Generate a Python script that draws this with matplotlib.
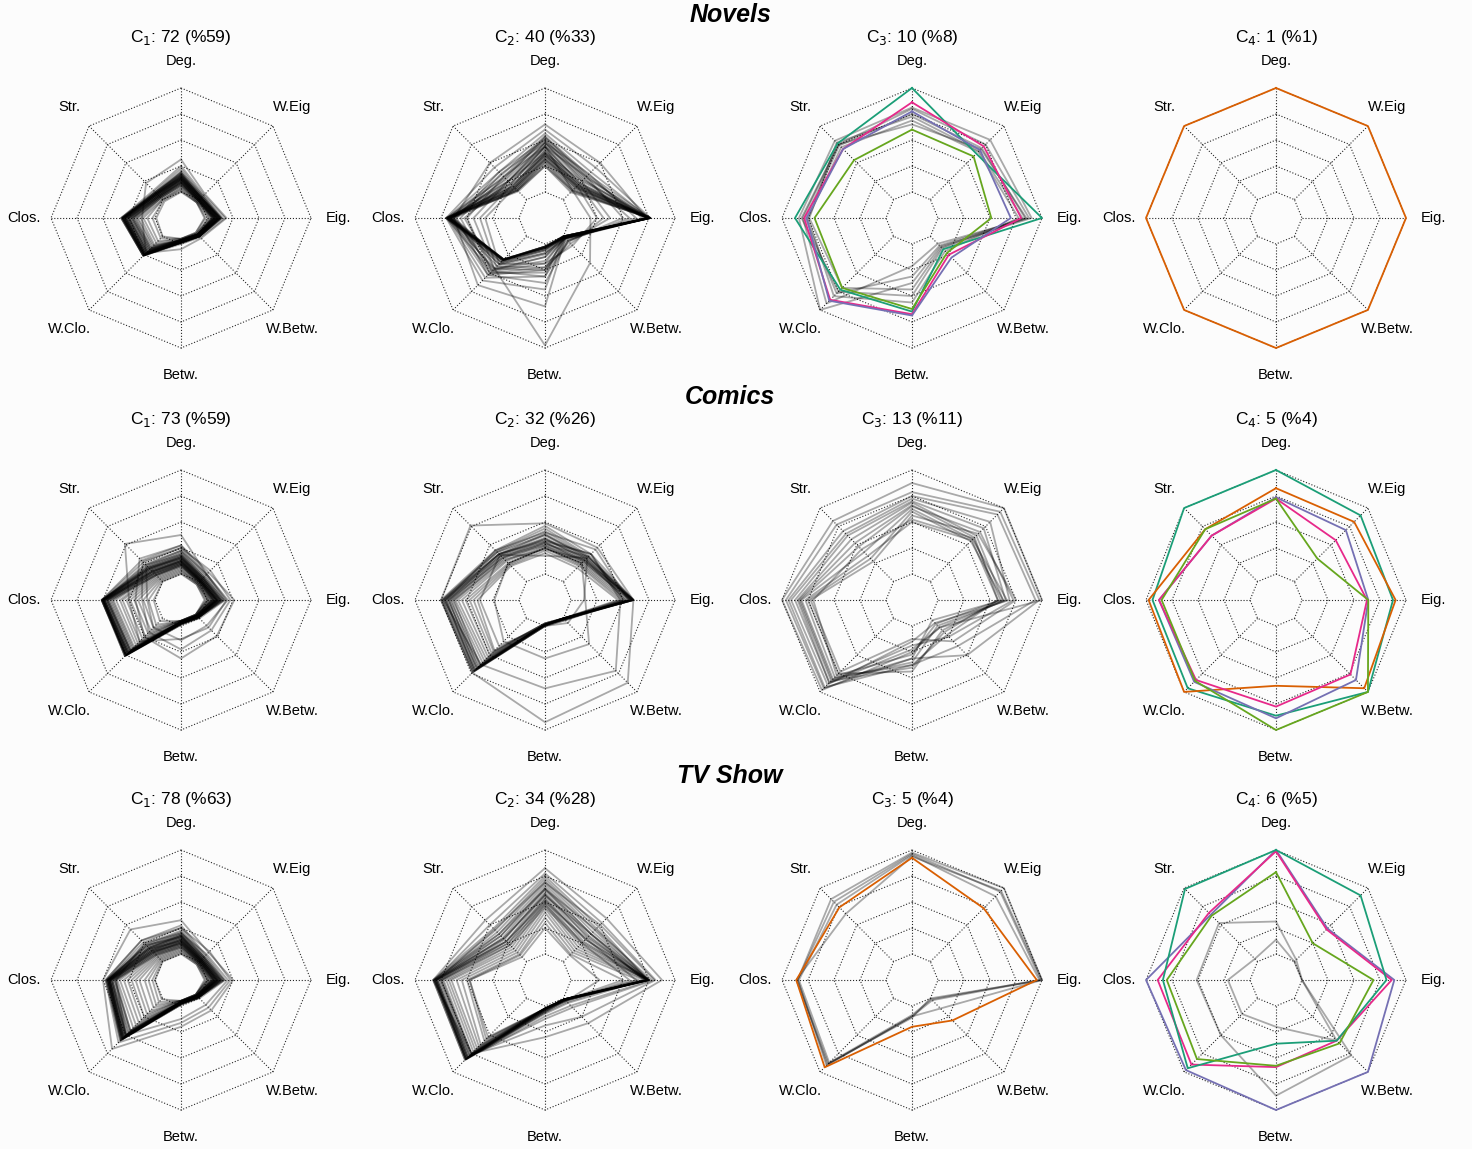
import numpy as np
import matplotlib
matplotlib.use('Agg')
from matplotlib import pyplot as plt

plt.rcParams['font.family'] = ['Liberation Sans', 'DejaVu Sans']

# spokes, clockwise from the top
axis_names = ['Deg.', 'W.Eig', 'Eig.', 'W.Betw.', 'Betw.', 'W.Clo.', 'Clos.', 'Str.']
media = ['Novels', 'Comics', 'TV Show']
cluster_sizes = [[72, 40, 10, 1], [73, 32, 13, 5], [78, 34, 5, 6]]
cluster_pcts = [[59, 33, 8, 1], [59, 26, 11, 4], [63, 28, 4, 5]]

# each row: Deg, W.Eig, Eig, W.Betw, Betw, W.Clo, Clos, Str
nov_c1 = [
  [0.45, 0.26, 0.35, 0.22, 0.24, 0.38, 0.30, 0.38],
  [0.40, 0.25, 0.34, 0.21, 0.20, 0.41, 0.46, 0.30],
  [0.38, 0.24, 0.32, 0.20, 0.19, 0.41, 0.45, 0.29],
  [0.36, 0.24, 0.31, 0.20, 0.19, 0.40, 0.44, 0.28],
  [0.35, 0.23, 0.30, 0.19, 0.18, 0.40, 0.45, 0.27],
  [0.34, 0.22, 0.30, 0.20, 0.19, 0.39, 0.43, 0.27],
  [0.33, 0.22, 0.29, 0.19, 0.18, 0.38, 0.42, 0.26],
  [0.32, 0.21, 0.28, 0.20, 0.19, 0.38, 0.43, 0.26],
  [0.31, 0.21, 0.28, 0.19, 0.18, 0.37, 0.41, 0.25],
  [0.30, 0.20, 0.27, 0.19, 0.18, 0.36, 0.40, 0.25],
  [0.30, 0.20, 0.27, 0.18, 0.18, 0.35, 0.39, 0.24],
  [0.29, 0.20, 0.26, 0.19, 0.18, 0.34, 0.38, 0.24],
  [0.28, 0.19, 0.26, 0.18, 0.17, 0.33, 0.37, 0.23],
  [0.27, 0.19, 0.25, 0.18, 0.17, 0.32, 0.36, 0.23],
  [0.26, 0.19, 0.25, 0.18, 0.17, 0.31, 0.34, 0.22],
  [0.25, 0.18, 0.24, 0.18, 0.17, 0.30, 0.33, 0.22],
  [0.24, 0.18, 0.23, 0.17, 0.17, 0.29, 0.31, 0.21],
  [0.23, 0.18, 0.22, 0.17, 0.16, 0.27, 0.29, 0.20],
  [0.22, 0.17, 0.21, 0.17, 0.16, 0.25, 0.26, 0.20],
  [0.21, 0.17, 0.19, 0.16, 0.16, 0.22, 0.22, 0.19],
  [0.20, 0.17, 0.18, 0.16, 0.16, 0.20, 0.19, 0.18],
  [0.33, 0.23, 0.30, 0.20, 0.19, 0.41, 0.46, 0.28],
  [0.31, 0.22, 0.29, 0.20, 0.18, 0.40, 0.45, 0.27],
  [0.29, 0.21, 0.27, 0.19, 0.18, 0.39, 0.44, 0.26],
  [0.34, 0.22, 0.31, 0.20, 0.19, 0.41, 0.46, 0.28],
  [0.33, 0.22, 0.30, 0.19, 0.19, 0.41, 0.45, 0.27],
  [0.32, 0.21, 0.30, 0.20, 0.18, 0.40, 0.45, 0.27],
  [0.32, 0.22, 0.29, 0.19, 0.19, 0.40, 0.44, 0.26],
  [0.31, 0.21, 0.29, 0.20, 0.18, 0.40, 0.44, 0.27],
  [0.30, 0.21, 0.28, 0.19, 0.18, 0.39, 0.43, 0.26],
  [0.30, 0.20, 0.28, 0.19, 0.18, 0.39, 0.43, 0.25],
  [0.29, 0.20, 0.27, 0.19, 0.18, 0.38, 0.42, 0.25],
  [0.28, 0.20, 0.26, 0.18, 0.18, 0.37, 0.41, 0.24],
  [0.28, 0.19, 0.26, 0.18, 0.17, 0.36, 0.40, 0.24],
  [0.27, 0.19, 0.25, 0.18, 0.17, 0.35, 0.38, 0.23],
  [0.26, 0.19, 0.24, 0.18, 0.17, 0.34, 0.37, 0.23],
  [0.35, 0.23, 0.31, 0.20, 0.19, 0.40, 0.44, 0.28],
  [0.31, 0.22, 0.28, 0.19, 0.18, 0.39, 0.42, 0.26],
  [0.27, 0.20, 0.26, 0.18, 0.17, 0.37, 0.40, 0.24],
  [0.25, 0.19, 0.24, 0.18, 0.17, 0.33, 0.35, 0.22],
]
nov_c2 = [
  [0.55, 0.30, 0.35, 0.49, 0.98, 0.55, 0.62, 0.40],
  [0.72, 0.60, 0.78, 0.22, 0.68, 0.73, 0.70, 0.60],
  [0.68, 0.55, 0.81, 0.21, 0.55, 0.68, 0.76, 0.55],
  [0.65, 0.50, 0.80, 0.20, 0.45, 0.65, 0.75, 0.50],
  [0.63, 0.47, 0.81, 0.22, 0.40, 0.62, 0.74, 0.47],
  [0.62, 0.45, 0.79, 0.23, 0.38, 0.60, 0.73, 0.45],
  [0.60, 0.44, 0.80, 0.21, 0.35, 0.58, 0.76, 0.44],
  [0.58, 0.42, 0.78, 0.22, 0.33, 0.56, 0.72, 0.42],
  [0.57, 0.40, 0.81, 0.20, 0.30, 0.55, 0.75, 0.40],
  [0.55, 0.38, 0.80, 0.22, 0.28, 0.52, 0.74, 0.38],
  [0.54, 0.37, 0.79, 0.21, 0.27, 0.50, 0.72, 0.37],
  [0.52, 0.36, 0.81, 0.20, 0.25, 0.48, 0.76, 0.35],
  [0.50, 0.35, 0.80, 0.21, 0.24, 0.47, 0.73, 0.34],
  [0.49, 0.34, 0.78, 0.22, 0.23, 0.46, 0.71, 0.33],
  [0.47, 0.33, 0.80, 0.20, 0.23, 0.45, 0.76, 0.32],
  [0.45, 0.32, 0.81, 0.21, 0.22, 0.45, 0.74, 0.31],
  [0.43, 0.30, 0.79, 0.20, 0.22, 0.46, 0.70, 0.30],
  [0.42, 0.29, 0.80, 0.21, 0.22, 0.45, 0.72, 0.30],
  [0.40, 0.28, 0.81, 0.20, 0.23, 0.45, 0.75, 0.29],
  [0.58, 0.48, 0.70, 0.24, 0.42, 0.60, 0.65, 0.48],
  [0.55, 0.45, 0.60, 0.25, 0.45, 0.58, 0.60, 0.45],
  [0.50, 0.40, 0.50, 0.26, 0.40, 0.55, 0.55, 0.40],
  [0.48, 0.37, 0.45, 0.28, 0.38, 0.53, 0.50, 0.36],
  [0.45, 0.35, 0.40, 0.30, 0.35, 0.50, 0.46, 0.33],
  [0.60, 0.43, 0.65, 0.25, 0.50, 0.62, 0.68, 0.50],
  [0.62, 0.46, 0.75, 0.22, 0.30, 0.57, 0.70, 0.43],
  [0.52, 0.36, 0.80, 0.21, 0.24, 0.46, 0.75, 0.35],
  [0.50, 0.35, 0.81, 0.20, 0.23, 0.46, 0.76, 0.34],
  [0.48, 0.34, 0.80, 0.21, 0.23, 0.45, 0.74, 0.33],
  [0.46, 0.33, 0.79, 0.20, 0.22, 0.45, 0.73, 0.32],
  [0.44, 0.31, 0.81, 0.21, 0.22, 0.46, 0.75, 0.31],
  [0.40, 0.30, 0.80, 0.20, 0.22, 0.45, 0.74, 0.30],
  [0.55, 0.38, 0.79, 0.21, 0.25, 0.48, 0.72, 0.37],
  [0.58, 0.41, 0.81, 0.22, 0.27, 0.50, 0.73, 0.40],
]
nov_c3_grey = [
  [0.85, 0.85, 0.92, 0.31, 0.50, 1.00, 0.87, 0.84],
  [0.84, 0.80, 0.90, 0.28, 0.37, 0.93, 0.84, 0.80],
  [0.80, 0.76, 0.87, 0.30, 0.45, 0.82, 0.82, 0.79],
  [0.78, 0.73, 0.85, 0.32, 0.55, 0.76, 0.79, 0.82],
  [0.75, 0.72, 0.82, 0.36, 0.65, 0.85, 0.80, 0.77],
  [0.72, 0.75, 0.88, 0.33, 0.60, 0.80, 0.85, 0.80],
]
nov_c3_hl = [
  [1.00, 0.70, 1.00, 0.34, 0.72, 0.78, 0.90, 0.81],
  [0.89, 0.78, 0.84, 0.40, 0.74, 0.89, 0.83, 0.75],
  [0.82, 0.74, 0.76, 0.43, 0.75, 0.90, 0.81, 0.75],
  [0.68, 0.67, 0.61, 0.38, 0.70, 0.76, 0.75, 0.63],
]
nov_c4_hl = [
  [1.00, 1.00, 1.00, 1.00, 1.00, 1.00, 1.00, 1.00],
]

com_c1 = [
  [0.50, 0.28, 0.35, 0.30, 0.30, 0.45, 0.40, 0.61],
  [0.42, 0.30, 0.41, 0.39, 0.45, 0.40, 0.35, 0.45],
  [0.40, 0.32, 0.38, 0.33, 0.38, 0.35, 0.30, 0.42],
  [0.38, 0.28, 0.36, 0.28, 0.31, 0.30, 0.26, 0.38],
  [0.42, 0.28, 0.34, 0.20, 0.19, 0.61, 0.61, 0.43],
  [0.40, 0.27, 0.33, 0.19, 0.19, 0.60, 0.61, 0.41],
  [0.38, 0.26, 0.32, 0.19, 0.18, 0.60, 0.60, 0.39],
  [0.37, 0.25, 0.31, 0.19, 0.18, 0.59, 0.60, 0.37],
  [0.35, 0.24, 0.30, 0.18, 0.18, 0.58, 0.59, 0.35],
  [0.34, 0.23, 0.29, 0.18, 0.18, 0.57, 0.58, 0.34],
  [0.33, 0.22, 0.28, 0.18, 0.18, 0.56, 0.57, 0.33],
  [0.32, 0.22, 0.27, 0.18, 0.17, 0.55, 0.56, 0.32],
  [0.31, 0.21, 0.26, 0.18, 0.17, 0.53, 0.54, 0.31],
  [0.30, 0.21, 0.25, 0.17, 0.17, 0.51, 0.52, 0.30],
  [0.29, 0.20, 0.25, 0.17, 0.17, 0.49, 0.50, 0.29],
  [0.28, 0.20, 0.24, 0.17, 0.17, 0.47, 0.47, 0.28],
  [0.27, 0.19, 0.23, 0.17, 0.17, 0.45, 0.45, 0.27],
  [0.26, 0.19, 0.23, 0.17, 0.16, 0.42, 0.42, 0.26],
  [0.25, 0.19, 0.22, 0.17, 0.16, 0.39, 0.39, 0.25],
  [0.24, 0.18, 0.21, 0.16, 0.16, 0.36, 0.36, 0.24],
  [0.23, 0.18, 0.21, 0.16, 0.16, 0.33, 0.33, 0.23],
  [0.22, 0.18, 0.20, 0.16, 0.16, 0.30, 0.29, 0.22],
  [0.21, 0.17, 0.19, 0.16, 0.16, 0.27, 0.25, 0.21],
  [0.20, 0.17, 0.18, 0.16, 0.16, 0.23, 0.21, 0.20],
  [0.36, 0.25, 0.33, 0.19, 0.19, 0.61, 0.60, 0.36],
  [0.33, 0.24, 0.31, 0.19, 0.18, 0.60, 0.61, 0.34],
  [0.30, 0.22, 0.28, 0.18, 0.18, 0.58, 0.60, 0.31],
  [0.28, 0.21, 0.27, 0.18, 0.18, 0.57, 0.59, 0.29],
  [0.34, 0.24, 0.30, 0.19, 0.18, 0.61, 0.61, 0.36],
  [0.33, 0.23, 0.30, 0.19, 0.18, 0.60, 0.61, 0.35],
  [0.32, 0.23, 0.29, 0.18, 0.18, 0.60, 0.60, 0.34],
  [0.31, 0.22, 0.28, 0.18, 0.18, 0.59, 0.60, 0.33],
  [0.30, 0.22, 0.28, 0.18, 0.18, 0.59, 0.59, 0.32],
  [0.30, 0.21, 0.27, 0.18, 0.17, 0.58, 0.59, 0.31],
  [0.29, 0.21, 0.27, 0.18, 0.17, 0.57, 0.58, 0.30],
  [0.28, 0.21, 0.26, 0.18, 0.17, 0.56, 0.57, 0.29],
  [0.27, 0.20, 0.25, 0.17, 0.17, 0.55, 0.56, 0.28],
  [0.27, 0.20, 0.25, 0.17, 0.17, 0.54, 0.55, 0.27],
  [0.35, 0.24, 0.31, 0.19, 0.18, 0.60, 0.60, 0.38],
  [0.32, 0.23, 0.29, 0.18, 0.18, 0.58, 0.59, 0.35],
  [0.29, 0.21, 0.27, 0.18, 0.17, 0.55, 0.57, 0.31],
  [0.26, 0.20, 0.24, 0.17, 0.17, 0.52, 0.53, 0.27],
]
com_c2 = [
  [0.59, 0.57, 0.68, 0.90, 0.94, 0.79, 0.80, 0.81],
  [0.45, 0.50, 0.58, 0.77, 0.68, 0.70, 0.78, 0.50],
  [0.40, 0.40, 0.31, 0.48, 0.45, 0.45, 0.39, 0.40],
  [0.34, 0.46, 0.30, 0.25, 0.20, 0.50, 0.50, 0.49],
  [0.57, 0.50, 0.68, 0.21, 0.20, 0.79, 0.80, 0.54],
  [0.55, 0.48, 0.68, 0.20, 0.20, 0.78, 0.79, 0.53],
  [0.53, 0.47, 0.67, 0.21, 0.19, 0.76, 0.78, 0.52],
  [0.51, 0.46, 0.68, 0.20, 0.19, 0.74, 0.77, 0.50],
  [0.50, 0.45, 0.66, 0.20, 0.19, 0.72, 0.75, 0.49],
  [0.48, 0.44, 0.67, 0.21, 0.19, 0.70, 0.73, 0.48],
  [0.47, 0.43, 0.68, 0.20, 0.19, 0.68, 0.71, 0.46],
  [0.45, 0.42, 0.65, 0.20, 0.19, 0.66, 0.69, 0.45],
  [0.44, 0.41, 0.66, 0.20, 0.19, 0.64, 0.67, 0.43],
  [0.42, 0.40, 0.64, 0.21, 0.19, 0.62, 0.64, 0.42],
  [0.41, 0.39, 0.62, 0.20, 0.18, 0.60, 0.61, 0.40],
  [0.40, 0.38, 0.60, 0.20, 0.18, 0.58, 0.58, 0.39],
  [0.38, 0.37, 0.58, 0.20, 0.18, 0.56, 0.55, 0.38],
  [0.36, 0.35, 0.56, 0.20, 0.18, 0.55, 0.52, 0.37],
  [0.52, 0.55, 0.64, 0.22, 0.20, 0.77, 0.76, 0.54],
  [0.46, 0.50, 0.60, 0.22, 0.20, 0.75, 0.74, 0.50],
  [0.43, 0.47, 0.66, 0.21, 0.19, 0.73, 0.72, 0.47],
  [0.39, 0.44, 0.62, 0.21, 0.19, 0.71, 0.70, 0.44],
  [0.50, 0.47, 0.68, 0.20, 0.19, 0.78, 0.79, 0.52],
  [0.47, 0.45, 0.67, 0.20, 0.19, 0.77, 0.77, 0.50],
  [0.44, 0.43, 0.68, 0.21, 0.19, 0.76, 0.76, 0.48],
  [0.42, 0.42, 0.66, 0.20, 0.19, 0.74, 0.74, 0.46],
]
com_c3 = [
  [0.90, 1.00, 1.00, 0.30, 0.40, 0.98, 1.00, 0.86],
  [0.83, 0.96, 0.98, 0.60, 0.45, 0.96, 0.97, 0.82],
  [0.80, 0.93, 0.95, 0.50, 0.50, 0.95, 0.95, 0.75],
  [0.78, 0.85, 0.75, 0.25, 0.32, 0.92, 0.93, 0.72],
  [0.76, 0.78, 0.72, 0.30, 0.38, 0.90, 0.90, 0.70],
  [0.75, 0.70, 0.70, 0.22, 0.45, 0.90, 0.88, 0.66],
  [0.73, 0.68, 0.66, 0.35, 0.52, 0.88, 0.87, 0.62],
  [0.72, 0.74, 0.78, 0.40, 0.35, 0.87, 0.86, 0.58],
  [0.70, 0.66, 0.73, 0.28, 0.48, 0.86, 0.85, 0.52],
  [0.68, 0.64, 0.70, 0.33, 0.55, 0.80, 0.80, 0.45],
  [0.65, 0.72, 0.80, 0.45, 0.30, 0.78, 0.78, 0.42],
  [0.62, 0.67, 0.68, 0.26, 0.42, 0.82, 0.76, 0.55],
  [0.60, 0.65, 0.66, 0.38, 0.50, 0.84, 0.82, 0.48],
]
com_c4_hl = [
  [1.00, 0.92, 0.90, 1.00, 0.89, 0.96, 0.95, 1.00],
  [0.86, 0.85, 0.92, 0.96, 0.66, 1.00, 0.98, 0.77],
  [0.79, 0.76, 0.71, 0.87, 0.91, 0.89, 0.90, 0.70],
  [0.78, 0.65, 0.70, 0.81, 0.82, 0.87, 0.90, 0.70],
  [0.78, 0.45, 0.71, 1.00, 1.00, 0.88, 0.88, 0.77],
]

tv_c1 = [
  [0.46, 0.30, 0.40, 0.33, 0.36, 0.75, 0.60, 0.55],
  [0.40, 0.31, 0.38, 0.30, 0.33, 0.68, 0.58, 0.43],
  [0.36, 0.28, 0.36, 0.27, 0.30, 0.60, 0.50, 0.40],
  [0.42, 0.27, 0.34, 0.20, 0.19, 0.66, 0.58, 0.43],
  [0.40, 0.26, 0.33, 0.19, 0.19, 0.65, 0.57, 0.41],
  [0.38, 0.25, 0.32, 0.19, 0.18, 0.64, 0.57, 0.39],
  [0.36, 0.25, 0.31, 0.19, 0.18, 0.63, 0.56, 0.37],
  [0.35, 0.24, 0.30, 0.18, 0.18, 0.62, 0.55, 0.35],
  [0.34, 0.23, 0.29, 0.18, 0.18, 0.61, 0.55, 0.34],
  [0.33, 0.22, 0.28, 0.18, 0.18, 0.59, 0.54, 0.33],
  [0.32, 0.22, 0.27, 0.18, 0.17, 0.57, 0.53, 0.32],
  [0.31, 0.21, 0.26, 0.18, 0.17, 0.55, 0.51, 0.31],
  [0.30, 0.21, 0.25, 0.17, 0.17, 0.52, 0.49, 0.30],
  [0.29, 0.20, 0.25, 0.17, 0.17, 0.49, 0.47, 0.29],
  [0.28, 0.20, 0.24, 0.17, 0.17, 0.46, 0.44, 0.28],
  [0.27, 0.19, 0.23, 0.17, 0.17, 0.43, 0.41, 0.27],
  [0.26, 0.19, 0.23, 0.17, 0.16, 0.40, 0.38, 0.26],
  [0.25, 0.19, 0.22, 0.17, 0.16, 0.37, 0.35, 0.25],
  [0.24, 0.18, 0.21, 0.16, 0.16, 0.34, 0.32, 0.24],
  [0.23, 0.18, 0.21, 0.16, 0.16, 0.30, 0.28, 0.23],
  [0.22, 0.18, 0.20, 0.16, 0.16, 0.27, 0.25, 0.22],
  [0.21, 0.17, 0.19, 0.16, 0.16, 0.24, 0.22, 0.21],
  [0.20, 0.17, 0.18, 0.16, 0.16, 0.21, 0.20, 0.20],
  [0.37, 0.25, 0.33, 0.19, 0.19, 0.64, 0.56, 0.38],
  [0.34, 0.24, 0.31, 0.19, 0.18, 0.63, 0.56, 0.35],
  [0.31, 0.22, 0.28, 0.18, 0.18, 0.62, 0.55, 0.32],
  [0.29, 0.21, 0.27, 0.18, 0.18, 0.60, 0.54, 0.30],
  [0.35, 0.24, 0.31, 0.19, 0.18, 0.66, 0.57, 0.37],
  [0.34, 0.23, 0.30, 0.19, 0.18, 0.65, 0.57, 0.36],
  [0.33, 0.23, 0.29, 0.18, 0.18, 0.64, 0.56, 0.35],
  [0.32, 0.22, 0.29, 0.18, 0.18, 0.64, 0.56, 0.34],
  [0.31, 0.22, 0.28, 0.18, 0.17, 0.63, 0.55, 0.33],
  [0.30, 0.21, 0.27, 0.18, 0.17, 0.62, 0.55, 0.32],
  [0.29, 0.21, 0.27, 0.18, 0.17, 0.61, 0.54, 0.31],
  [0.28, 0.20, 0.26, 0.17, 0.17, 0.60, 0.53, 0.30],
  [0.27, 0.20, 0.25, 0.17, 0.17, 0.58, 0.52, 0.29],
  [0.26, 0.20, 0.25, 0.17, 0.17, 0.56, 0.51, 0.28],
  [0.33, 0.23, 0.30, 0.19, 0.18, 0.65, 0.56, 0.38],
  [0.30, 0.22, 0.28, 0.18, 0.18, 0.63, 0.55, 0.34],
  [0.28, 0.21, 0.26, 0.18, 0.17, 0.60, 0.53, 0.31],
  [0.25, 0.19, 0.24, 0.17, 0.17, 0.55, 0.50, 0.27],
]
tv_c2 = [
  [0.86, 0.67, 0.90, 0.47, 0.44, 0.80, 0.86, 0.65],
  [0.82, 0.62, 0.85, 0.40, 0.35, 0.82, 0.85, 0.60],
  [0.80, 0.58, 0.79, 0.22, 0.25, 0.87, 0.86, 0.56],
  [0.78, 0.56, 0.80, 0.22, 0.24, 0.86, 0.85, 0.54],
  [0.76, 0.54, 0.79, 0.21, 0.24, 0.86, 0.84, 0.52],
  [0.74, 0.52, 0.80, 0.22, 0.23, 0.85, 0.83, 0.50],
  [0.72, 0.50, 0.79, 0.21, 0.23, 0.84, 0.82, 0.48],
  [0.70, 0.48, 0.78, 0.22, 0.23, 0.83, 0.81, 0.46],
  [0.68, 0.46, 0.79, 0.21, 0.22, 0.82, 0.80, 0.44],
  [0.66, 0.44, 0.80, 0.22, 0.22, 0.81, 0.79, 0.42],
  [0.64, 0.42, 0.79, 0.21, 0.22, 0.80, 0.78, 0.40],
  [0.62, 0.40, 0.78, 0.21, 0.22, 0.78, 0.76, 0.38],
  [0.60, 0.38, 0.79, 0.21, 0.22, 0.76, 0.74, 0.36],
  [0.58, 0.36, 0.80, 0.21, 0.22, 0.74, 0.72, 0.34],
  [0.55, 0.34, 0.78, 0.21, 0.22, 0.72, 0.68, 0.32],
  [0.52, 0.32, 0.76, 0.21, 0.22, 0.70, 0.64, 0.30],
  [0.48, 0.30, 0.72, 0.21, 0.22, 0.66, 0.60, 0.28],
  [0.44, 0.28, 0.60, 0.22, 0.22, 0.64, 0.58, 0.27],
  [0.40, 0.27, 0.42, 0.23, 0.22, 0.62, 0.58, 0.25],
  [0.75, 0.60, 0.84, 0.30, 0.30, 0.84, 0.83, 0.55],
  [0.70, 0.55, 0.82, 0.28, 0.28, 0.87, 0.86, 0.50],
  [0.65, 0.50, 0.76, 0.25, 0.26, 0.86, 0.85, 0.45],
  [0.60, 0.45, 0.70, 0.24, 0.25, 0.85, 0.84, 0.42],
  [0.56, 0.40, 0.65, 0.23, 0.24, 0.80, 0.80, 0.38],
  [0.70, 0.50, 0.80, 0.21, 0.23, 0.86, 0.85, 0.48],
  [0.66, 0.47, 0.79, 0.21, 0.22, 0.86, 0.84, 0.45],
  [0.62, 0.44, 0.80, 0.21, 0.22, 0.85, 0.84, 0.42],
  [0.58, 0.41, 0.79, 0.21, 0.22, 0.84, 0.83, 0.40],
]
tv_c3_grey = [
  [0.98, 1.00, 1.00, 0.31, 0.28, 0.93, 0.88, 0.88],
  [0.97, 0.96, 0.99, 0.22, 0.28, 0.92, 0.88, 0.85],
  [0.96, 0.91, 0.98, 0.21, 0.27, 0.90, 0.87, 0.82],
  [0.95, 0.97, 1.00, 0.20, 0.29, 0.91, 0.89, 0.72],
]
tv_c3_hl = [
  [0.94, 0.78, 0.96, 0.44, 0.36, 0.95, 0.89, 0.79],
]
tv_c4_grey = [
  [0.45, 0.22, 0.20, 0.82, 0.89, 0.60, 0.61, 0.62],
  [0.31, 0.20, 0.20, 0.66, 0.36, 0.37, 0.37, 0.23],
]
tv_c4_hl = [
  [1.00, 0.56, 0.91, 1.00, 1.00, 0.98, 1.00, 0.71],
  [0.99, 0.55, 0.89, 0.66, 0.67, 0.92, 0.91, 0.73],
  [1.00, 0.92, 0.85, 0.66, 0.49, 0.96, 0.87, 0.99],
  [0.83, 0.40, 0.75, 0.69, 0.66, 0.86, 0.84, 0.70],
]

# ---- styles ----
teal, orange, purple, pink, green = '#1b9e77', '#d95f02', '#7570b3', '#e7298a', '#66a61e'

panels = [
  [(nov_c1, [], []), (nov_c2, [], []),
   (nov_c3_grey, nov_c3_hl, [teal, pink, purple, green]),
   ([], nov_c4_hl, [orange])],
  [(com_c1, [], []), (com_c2, [], []), (com_c3, [], []),
   ([], com_c4_hl, [teal, orange, purple, pink, green])],
  [(tv_c1, [], []), (tv_c2, [], []), (tv_c3_grey, tv_c3_hl, [orange]),
   (tv_c4_grey, tv_c4_hl, [purple, pink, teal, green])],
]

W, H = 1472, 1149
col_x = [181, 545, 912, 1276]
row_y = [218, 600, 980]
row_title_y = [15, 397, 776]
R = 130

fig = plt.figure(figsize=(W / 100, H / 100), dpi=100, facecolor='#fcfcfc')

theta = np.linspace(0, 2 * np.pi, len(axis_names), endpoint=False)
theta_c = np.append(theta, theta[0])

def radar(ax, grey, hl, colors):
  ax.set_theta_offset(np.pi / 2)
  ax.set_theta_direction(-1)
  ax.set_ylim(0, 1)
  ax.axis('off')
  for r in [0.2, 0.4, 0.6, 0.8, 1.0]:
    ax.plot(theta_c, [r] * len(theta_c), ls=':', color='0.15', lw=0.8, clip_on=False)
  for t in theta:
    ax.plot([t, t], [0.2, 1], ls=':', color='0.15', lw=0.8, clip_on=False)
  for row in grey:
    ax.plot(theta_c, row + row[:1], color='k', alpha=0.33, lw=1.3, clip_on=False)
  for row, c in zip(hl, colors):
    ax.plot(theta_c, row + row[:1], color=c, lw=1.3, clip_on=False)
  for t, name in zip(theta, axis_names):
    ax.text(t, 1.21, name, ha='center', va='center', fontsize=10.5)

for i in range(3):
  fig.text(0.496, 1 - row_title_y[i] / H, media[i], ha='center', va='center',
           fontsize=18, fontweight='bold', fontstyle='italic')
  for j in range(4):
    cx, cy = col_x[j], row_y[i]
    ax = fig.add_axes([(cx - R) / W, (H - cy - R) / H, 2 * R / W, 2 * R / H], polar=True)
    grey, hl, colors = panels[i][j]
    radar(ax, grey, hl, colors)
    ax.text(0, 1.39, r'C$_%d$: %d (%%%d)' % (j + 1, cluster_sizes[i][j], cluster_pcts[i][j]),
            ha='center', va='center', fontsize=12.5)

fig.savefig('out.png', dpi=100, facecolor=fig.get_facecolor())
